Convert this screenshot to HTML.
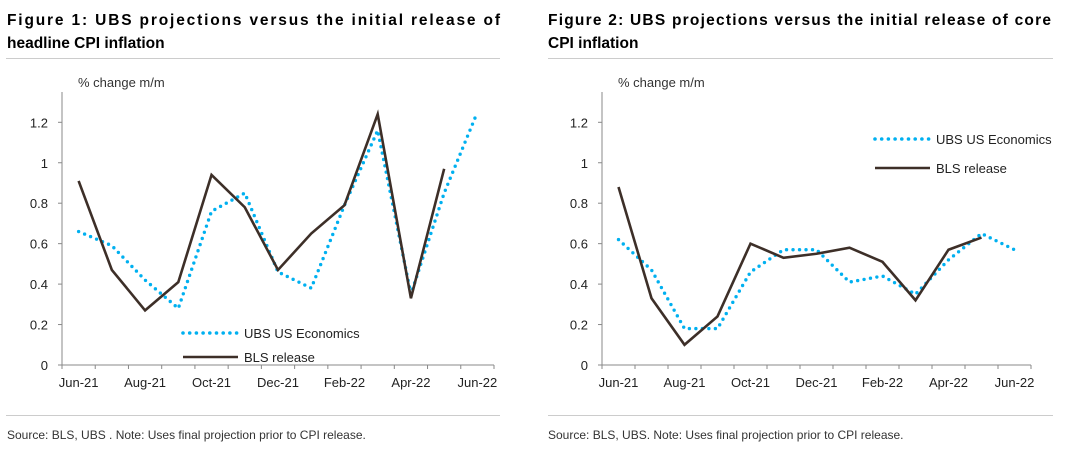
<!DOCTYPE html>
<html><head><meta charset="utf-8"><style>
html,body{margin:0;padding:0;background:#fff;width:1068px;height:453px;overflow:hidden}
svg{display:block;font-family:"Liberation Sans",sans-serif}
</style></head><body>
<svg id="root" width="1068" height="453">
<g font-weight="bold" font-size="15.5" fill="#000">
<text x="7" y="25" textLength="493" lengthAdjust="spacing">Figure 1: UBS projections versus the initial release of</text>
<text x="7" y="48">headline CPI inflation</text></g>
<g font-weight="bold" font-size="15.5" fill="#000">
<text x="548" y="25" textLength="503" lengthAdjust="spacing">Figure 2: UBS projections versus the initial release of core</text>
<text x="548" y="48">CPI inflation</text></g>
<line x1="6" y1="58.5" x2="500" y2="58.5" stroke="#ccc"/>
<line x1="548" y1="58.5" x2="1053" y2="58.5" stroke="#ccc"/>
<line x1="6" y1="415.5" x2="500" y2="415.5" stroke="#ccc"/>
<line x1="548" y1="415.5" x2="1053" y2="415.5" stroke="#ccc"/>
<text x="7" y="439" font-size="12" fill="#333">Source: BLS, UBS . Note: Uses final projection prior to CPI release.</text>
<text x="548" y="439" font-size="12" fill="#333">Source: BLS, UBS. Note: Uses final projection prior to CPI release.</text>
<g id="c1"></g><g id="c2"></g>
</svg>
<script>
const categories = ["Jun-21","Jul-21","Aug-21","Sep-21","Oct-21","Nov-21","Dec-21","Jan-22","Feb-22","Mar-22","Apr-22","May-22","Jun-22"];
const xTickLabels = ["Jun-21","Aug-21","Oct-21","Dec-21","Feb-22","Apr-22","Jun-22"];
const yTicks = [0,0.2,0.4,0.6,0.8,1,1.2];
const headlineUBS = [0.66,0.59,0.42,0.28,0.76,0.85,0.46,0.38,0.79,1.16,0.35,0.85,1.25];
const headlineBLS = [0.91,0.47,0.27,0.41,0.94,0.78,0.47,0.65,0.79,1.24,0.33,0.97];
const coreUBS = [0.62,0.47,0.18,0.18,0.46,0.57,0.57,0.41,0.44,0.35,0.52,0.65,0.57];
const coreBLS = [0.88,0.33,0.10,0.24,0.60,0.53,0.55,0.58,0.51,0.32,0.57,0.63];
const NS="http://www.w3.org/2000/svg";
function mk(p,tag,at){const e=document.createElementNS(NS,tag);for(const k in at)e.setAttribute(k,at[k]);p.appendChild(e);return e;}
function chart(gid,x0,x1,ubs,bls,leg,prefix){
  const g=document.getElementById(gid);
  const y0=365,yTop=122.3;
  const band=(x1-x0)/categories.length;
  const X=i=>x0+band*(i+0.5);
  const Y=v=>y0-(v/1.2)*(y0-yTop);
  let t=mk(g,'text',{x:x0+16,y:87,'font-size':13,fill:'#333'});t.textContent='% change m/m';
  
  
  let a=mk(g,'line',{x1:x0,y1:92,x2:x0,y2:y0,stroke:'#888'});
  
  
  yTicks.forEach(v=>{
    mk(g,'line',{x1:x0-4,y1:Y(v),x2:x0,y2:Y(v),stroke:'#888'});
    const l=mk(g,'text',{x:x0-14,y:Y(v)+5,'font-size':13,fill:'#222','text-anchor':'end'});l.textContent=String(v);
    
    
  });
  let xa=mk(g,'line',{x1:x0,y1:y0,x2:x1,y2:y0,stroke:'#888'});
  
  
  for(let i=0;i<=categories.length;i++)mk(g,'line',{x1:x0+band*i,y1:y0,x2:x0+band*i,y2:y0+4,stroke:'#888'});
  categories.forEach((c,i)=>{
    if(!xTickLabels.includes(c))return;
    const l=mk(g,'text',{x:X(i),y:y0+22,'font-size':13,fill:'#222','text-anchor':'middle'});l.textContent=c;
    
    
  });
  const u=mk(g,'polyline',{points:ubs.map((v,i)=>X(i)+','+Y(v)).join(' '),fill:'none',stroke:'#00b0f0','stroke-width':3.4,'stroke-dasharray':'0 6.5','stroke-linecap':'round'});
  
  
  const b=mk(g,'polyline',{points:bls.map((v,i)=>X(i)+','+Y(v)).join(' '),fill:'none',stroke:'#3d2f28','stroke-width':2.6,'stroke-linejoin':'miter'});
  
  
  const [lx,ly1,ly2]=leg;
  const lu=mk(g,'line',{x1:lx,y1:ly1,x2:lx+55,y2:ly1,stroke:'#00b0f0','stroke-width':3.6,'stroke-dasharray':'0 6.7','stroke-linecap':'round'});
  
  
  let lt=mk(g,'text',{x:lx+61,y:ly1+5,'font-size':13,fill:'#222'});lt.textContent='UBS US Economics';
  
  
  const lb=mk(g,'line',{x1:lx,y1:ly2,x2:lx+55,y2:ly2,stroke:'#3d2f28','stroke-width':2.6});
  
  
  lt=mk(g,'text',{x:lx+61,y:ly2+5,'font-size':13,fill:'#222'});lt.textContent='BLS release';
  
  
}
chart('c1',62,494,headlineUBS,headlineBLS,[183,333,357],'headline');
chart('c2',602,1031,coreUBS,coreBLS,[875,139,168],'core');
</script>
</body></html>
